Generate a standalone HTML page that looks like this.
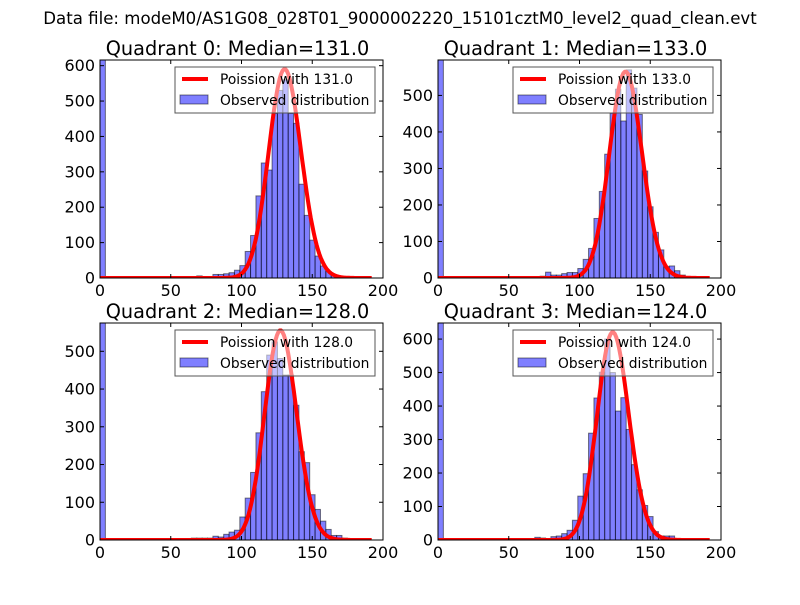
<!DOCTYPE html>
<html><head><meta charset="utf-8"><style>
body{margin:0;background:#fff;}
svg text{font-family:"DejaVu Sans","Liberation Sans",sans-serif;}
</style></head><body>
<svg id="fig" width="800" height="600" viewBox="0 0 800 600" xmlns="http://www.w3.org/2000/svg">
<rect width="800" height="600" fill="#fff"/>
<text x="400" y="24" font-size="16.6" text-anchor="middle">Data file: modeM0/AS1G08_028T01_9000002220_15101cztM0_level2_quad_clean.evt</text>
</svg>
<script>
const binWidth = 3.8;
const medians = [131, 133, 128, 124];
const peakValues = [590, 565, 555, 620];
const yMaxes = [616, 597, 575, 648];
const yTickLabels = [[0,100,200,300,400,500,600],[0,100,200,300,400,500],[0,100,200,300,400,500],[0,100,200,300,400,500,600]];
const xTickLabels = [0,50,100,150,200];
// counts by bin index (bin k covers [3.8k, 3.8k+3.8))
const counts0 = {0:616,18:6,21:10,22:10,23:12,24:15,25:22,26:35,27:75,28:120,29:232,30:325,31:305,32:465,33:530,34:560,35:465,36:437,37:265,38:177,39:107,40:62,41:34,42:18,43:8,44:4};
const counts1 = {0:597,19:5,20:16,21:8,22:8,23:12,24:15,25:15,26:26,27:51,28:81,29:163,30:237,31:339,32:451,33:517,34:430,35:570,36:520,37:448,38:293,39:195,40:125,41:77,42:31,43:33,44:20,45:8};
const counts2 = {0:575,16:4,17:5,18:5,19:5,20:5,21:10,22:8,23:15,24:21,25:26,26:61,27:111,28:179,29:284,30:393,31:490,32:525,33:481,34:437,35:437,36:357,37:234,38:205,39:120,40:81,41:50,42:28,43:12,44:12,45:5};
const counts3 = {0:648,18:8,19:6,21:10,22:12,23:19,24:29,25:59,26:131,27:198,28:319,29:424,30:501,31:600,32:500,33:385,34:425,35:330,36:225,37:150,38:103,39:70,40:25,41:12,42:12,43:12};
const allCounts = [counts0, counts1, counts2, counts3];
const titles = ["Quadrant 0: Median=131.0","Quadrant 1: Median=133.0","Quadrant 2: Median=128.0","Quadrant 3: Median=124.0"];

const boxes = [{l:100,t:60,r:383,b:278},{l:438,t:60,r:721,b:278},{l:100,t:323,r:383,b:540},{l:438,t:323,r:721,b:540}];
const svg = document.getElementById('fig');
const NS = 'http://www.w3.org/2000/svg';
function mk(tag, attrs, parent){const e=document.createElementNS(NS,tag);for(const k in attrs)e.setAttribute(k,attrs[k]);(parent||svg).appendChild(e);return e;}
function lgamma(z){
  let s=0; while(z<8){s-=Math.log(z);z+=1;}
  return s+(z-0.5)*Math.log(z)-z+0.5*Math.log(2*Math.PI)+1/(12*z)-1/(360*z*z*z);
}
for(let q=0;q<4;q++){
  const B=boxes[q], ymax=yMaxes[q];
  const xs=v=>B.l+(v/200)*(B.r-B.l);
  const ys=v=>B.b-(v/ymax)*(B.b-B.t);
  const g=mk('g',{});
  
  
  const cid='clip'+q;
  const cp=mk('clipPath',{id:cid},g); mk('rect',{x:B.l,y:B.t,width:B.r-B.l,height:B.b-B.t},cp);
  const plot=mk('g',{'clip-path':'url(#'+cid+')'},g);
  const cnt=allCounts[q];
  for(const k in cnt){
    const x0=xs(k*binWidth), x1=xs(k*binWidth+binWidth);
    const r=mk('rect',{x:x0,y:ys(cnt[k]),width:x1-x0,height:B.b-ys(cnt[k]),fill:'rgba(0,0,255,0.5)',stroke:'rgba(0,0,0,0.5)','stroke-width':1},plot);
    
    
  }
  const m=medians[q];
  const peakPmf=Math.exp(m*Math.log(m)-m-lgamma(m+1));
  const scale=peakValues[q]/peakPmf;
  let d='';
  for(let x=0;x<=192;x+=1){
    const p=x===0?Math.exp(-m):Math.exp(x*Math.log(m)-m-lgamma(x+1));
    d+=(x?'L':'M')+xs(x).toFixed(1)+','+ys(p*scale).toFixed(1);
  }
  const c=mk('path',{d:d,fill:'none',stroke:'#ff0000','stroke-width':4,'stroke-linejoin':'round'},plot);
  
  
  mk('rect',{x:B.l,y:B.t,width:B.r-B.l,height:B.b-B.t,fill:'none',stroke:'#000','stroke-width':1},g);
  for(const v of xTickLabels){
    const x=xs(v);
    mk('line',{x1:x,y1:B.b,x2:x,y2:B.b-4,stroke:'#000'},g);
    mk('line',{x1:x,y1:B.t,x2:x,y2:B.t+4,stroke:'#000'},g);
    const t=mk('text',{x:x,y:B.b+18,'font-size':16,'text-anchor':'middle'},g); t.textContent=v;
    
    
  }
  for(const v of yTickLabels[q]){
    const y=ys(v);
    mk('line',{x1:B.l,y1:y,x2:B.l+4,y2:y,stroke:'#000'},g);
    mk('line',{x1:B.r,y1:y,x2:B.r-4,y2:y,stroke:'#000'},g);
    const t=mk('text',{x:B.l-5,y:y+5.5,'font-size':16,'text-anchor':'end'},g); t.textContent=v;
    
    
  }
  const tt=mk('text',{x:(B.l+B.r)/2-4,y:B.t-5,'font-size':19.3,'text-anchor':'middle'},g); tt.textContent=titles[q];
  
  
  const L=mk('g',{},g);
  
  
  const lx=B.r-208, ly=B.t+7;
  mk('rect',{x:lx,y:ly,width:200,height:46,fill:'rgba(255,255,255,0.5)',stroke:'#555','stroke-width':1},L);
  mk('line',{x1:lx+7,y1:ly+12,x2:lx+33,y2:ly+12,stroke:'#ff0000','stroke-width':4},L);
  const t1=mk('text',{x:lx+45,y:ly+17,'font-size':13.8},L); t1.textContent='Poission with '+medians[q].toFixed(1);
  mk('rect',{x:lx+5,y:ly+28,width:28,height:9,fill:'rgba(0,0,255,0.5)',stroke:'rgba(0,0,0,0.5)'},L);
  const t2=mk('text',{x:lx+45,y:ly+38,'font-size':13.8},L); t2.textContent='Observed distribution';
}
</script>
</body></html>
